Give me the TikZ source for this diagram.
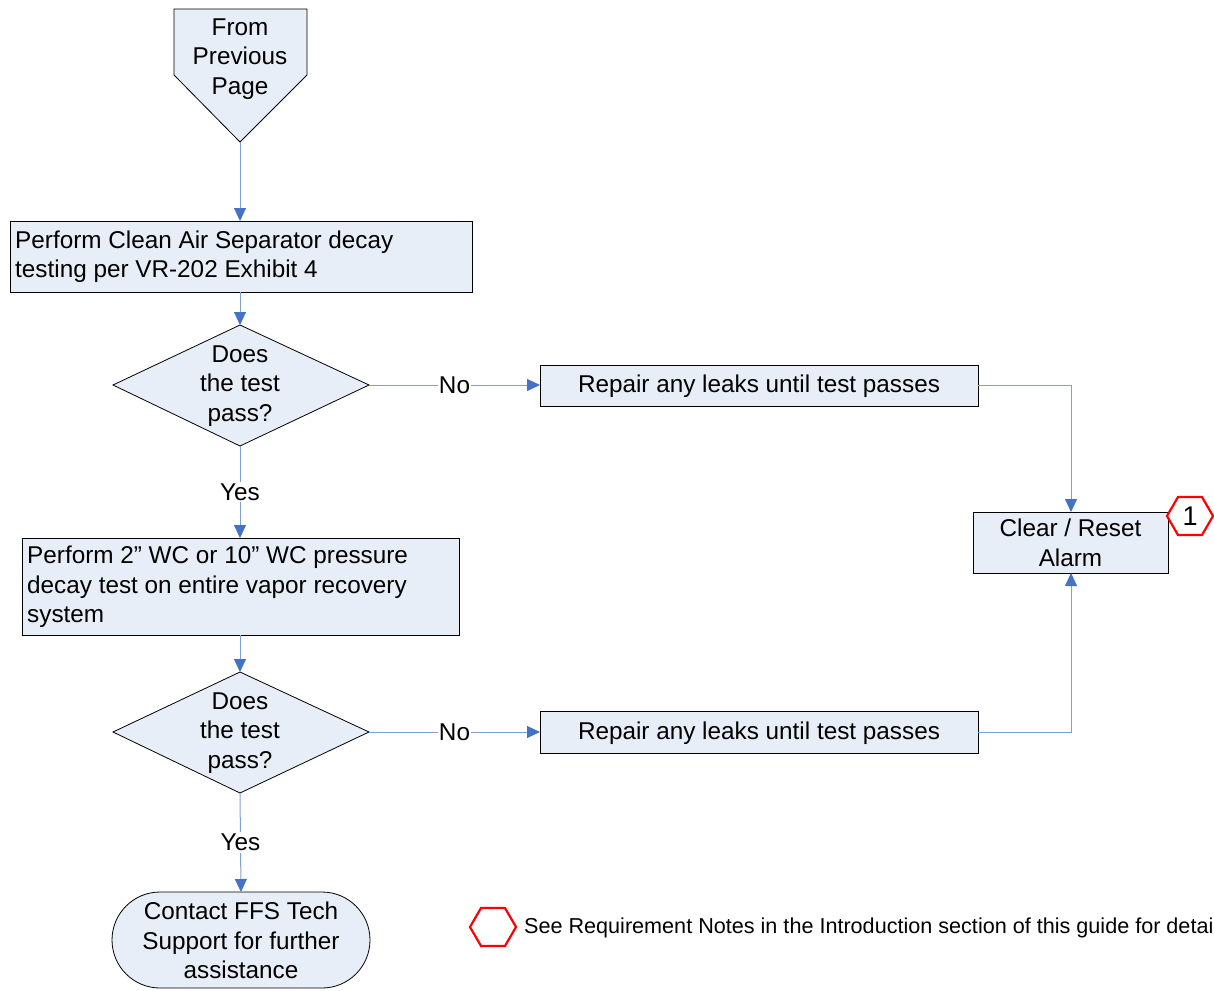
\documentclass[tikz,border=0pt]{standalone}
\usepackage{fontspec}
\setmainfont{Liberation Sans}
\usetikzlibrary{arrows.meta,shapes.geometric}
\definecolor{boxfill}{HTML}{E8EEF7}
\definecolor{linkblue}{HTML}{7EA1D0}
\definecolor{tipblue}{HTML}{4472C4}
\begin{document}
\begin{tikzpicture}[x=1pt,y=-1pt,
  every node/.style={font=\fontsize{24.3}{29.5}\selectfont, inner sep=0pt},
  shapeline/.style={draw=black, line width=0.8pt, fill=boxfill},
  link/.style={draw=linkblue, line width=1pt, -{Triangle[length=13pt,width=12pt,fill=tipblue,color=tipblue]}},
  lbl/.style={fill=white, inner xsep=1pt, inner ysep=2pt},
  hexmark/.style={draw=red, line width=2.2pt}
]
\useasboundingbox (0,0) rectangle (1214,990);
\clip (0,0) rectangle (1214,990);

% off-page connector
\draw[shapeline] (174,9) -- (307,9) -- (307,75) -- (240,142) -- (174,75) -- cycle;
\node[align=center] (start) at (240,59) {From\\Previous\\Page};
\coordinate (starttip) at (240,142);

% process boxes
\draw[shapeline] (10,221) rectangle (472,292);
\node[anchor=west, align=left] (cas) at (15,256.5) {Perform Clean Air Separator decay\\testing per VR-202 Exhibit 4};
\coordinate (castop) at (240,221);
\coordinate (casbot) at (240,292);

\draw[shapeline] (113,385) -- (240,325) -- (369,385) -- (240,446) -- cycle;
\node[align=center] (q1) at (240,386) {Does\\the test\\pass?};
\coordinate (q1top) at (240,325);
\coordinate (q1bot) at (240,446);
\coordinate (q1right) at (369,385);

\draw[shapeline] (540,365) rectangle (978,406);
\node (rep1) at (759,386) {Repair any leaks until test passes};
\coordinate (rep1left) at (540,385);
\coordinate (rep1right) at (978,385);

\draw[shapeline] (973,512) rectangle (1168,573);
\node[align=center] (clear) at (1070.5,543) {Clear / Reset\\Alarm};
\coordinate (cleartop) at (1071,512);
\coordinate (clearbot) at (1071,573);

\draw[shapeline] (22,538) rectangle (459,635);
\node[anchor=west, align=left] (sys) at (27,587) {Perform 2” WC or 10” WC pressure\\decay test on entire vapor recovery\\system};
\coordinate (systop) at (240,538);
\coordinate (sysbot) at (240,635);

\draw[shapeline] (113,732) -- (240,672) -- (369,732) -- (240,793) -- cycle;
\node[align=center] (q2) at (240,733) {Does\\the test\\pass?};
\coordinate (q2top) at (240,672);
\coordinate (q2bot) at (240,793);
\coordinate (q2right) at (369,732);

\draw[shapeline] (540,711) rectangle (978,753);
\node (rep2) at (759,733) {Repair any leaks until test passes};
\coordinate (rep2left) at (540,732);
\coordinate (rep2right) at (978,732);

\draw[shapeline, rounded corners=48pt] (112,892) rectangle (370,988);
\node[align=center] (support) at (241,940.5) {Contact FFS Tech\\Support for further\\assistance};
\coordinate (supporttop) at (241,892);

% requirement marker on the alarm box
\draw[hexmark, fill=white] (1167,516) -- (1178,497) -- (1202,497) -- (1213,516) -- (1202,535) -- (1178,535) -- cycle;
\node[font=\fontsize{27}{30}\selectfont] (req) at (1190,516) {1};

% legend
\draw[hexmark] (470,927) -- (481,908) -- (505,908) -- (516,927) -- (505,946) -- (481,946) -- cycle;
\node[anchor=west, font=\fontsize{21.6}{24}\selectfont] (legend) at (524,928) {See Requirement Notes in the Introduction section of this guide for detai};

% connectors
\draw[link] (starttip) -- (castop);
\draw[link] (casbot) -- (q1top);
\draw[link] (q1bot) -- node[lbl] {Yes} (systop);
\draw[link] (q1right) -- node[lbl, pos=0.5] {No} (rep1left);
\draw[link] (rep1right) -| (cleartop);
\draw[link] (sysbot) -- (q2top);
\draw[link] (q2right) -- node[lbl, pos=0.5] {No} (rep2left);
\draw[link] (rep2right) -| (clearbot);
\draw[link] (q2bot) -- node[lbl] {Yes} (supporttop);
\end{tikzpicture}
\end{document}
